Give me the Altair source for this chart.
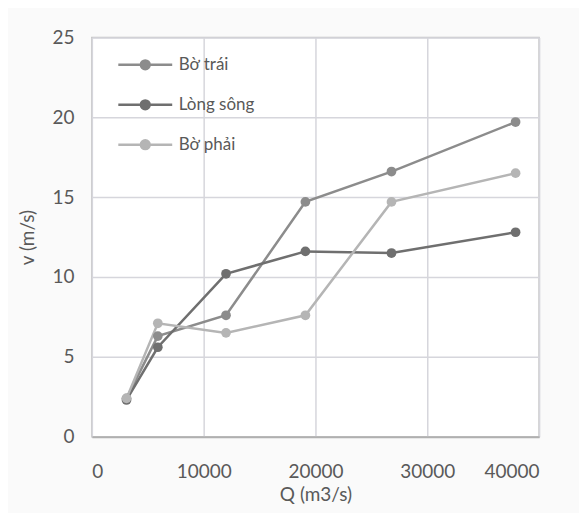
import altair as alt
import pandas as pd

series_names = ["Bờ trái", "Lòng sông", "Bờ phải"]
q_values = [3100, 5900, 12000, 19100, 26800, 37900]
bo_trai = [2.4, 6.3, 7.6, 14.7, 16.6, 19.7]
long_song = [2.3, 5.6, 10.2, 11.6, 11.5, 12.8]
bo_phai = [2.4, 7.1, 6.5, 7.6, 14.7, 16.5]
colors = ["#8c8c8c", "#6f6f6f", "#b5b5b5"]

rows = []
for name, vals in zip(series_names, [bo_trai, long_song, bo_phai]):
    for q, v in zip(q_values, vals):
        rows.append({"Q": q, "v": v, "series": name})
df = pd.DataFrame(rows)

font = "Lato"
sym_path = "M-1.35,0H1.35M-0.22,0A0.22,0.22 0 1,1 0.22,0A0.22,0.22 0 1,1 -0.22,0Z"

legend = alt.Legend(
    title=None, orient="none", legendX=32, legendY=6,
    symbolType=sym_path, symbolSize=1600,
    symbolStrokeWidth=2.5, rowPadding=9, labelOffset=12,
    labelFontSize=17, labelColor="#595959", labelFont=font,
    padding=0, symbolOpacity=1,
)

x_enc = alt.X("Q:Q", title="Q (m3/s)",
              scale=alt.Scale(domain=[0, 40000], nice=False),
              axis=alt.Axis(values=[0, 10000, 20000, 30000, 40000], format="d",
                            titlePadding=4, labelPadding=26))
y_enc = alt.Y("v:Q", title="v (m/s)",
              scale=alt.Scale(domain=[0, 25], nice=False),
              axis=alt.Axis(values=[0, 5, 10, 15, 20, 25], titlePadding=14, labelPadding=18))

base = alt.Chart(df)
lines = base.mark_line(strokeWidth=2.5).encode(
    x=x_enc, y=y_enc,
    stroke=alt.Stroke("series:N", scale=alt.Scale(domain=series_names, range=colors), legend=legend),
)
points = base.mark_point(filled=True, size=95, opacity=1, strokeOpacity=0).encode(
    x=x_enc, y=y_enc,
    fill=alt.Fill("series:N", scale=alt.Scale(domain=series_names, range=colors), legend=legend),
)

chart = alt.layer(lines, points).properties(
    width=448, height=400,
    autosize=alt.AutoSizeParams(type="none"),
    padding={"left": 84, "top": 29, "right": 40, "bottom": 76},
    background="#fafafa",
).configure_view(
    stroke="#c4c4c4", strokeWidth=1.5, fill="#ffffff",
).configure_axis(
    grid=True, gridColor="#d6d6dc", gridWidth=1.5,
    domain=False, ticks=False,
    labelFont=font, labelFontSize=19, labelColor="#595959",
    titleFont=font, titleFontSize=19, titleColor="#595959", titleFontWeight="normal",
).configure_axisX(
    domain=True, domainColor="#b0b0b0", domainWidth=2,
)

chart.save("out.html", embed_options={"renderer": "svg", "actions": False})
